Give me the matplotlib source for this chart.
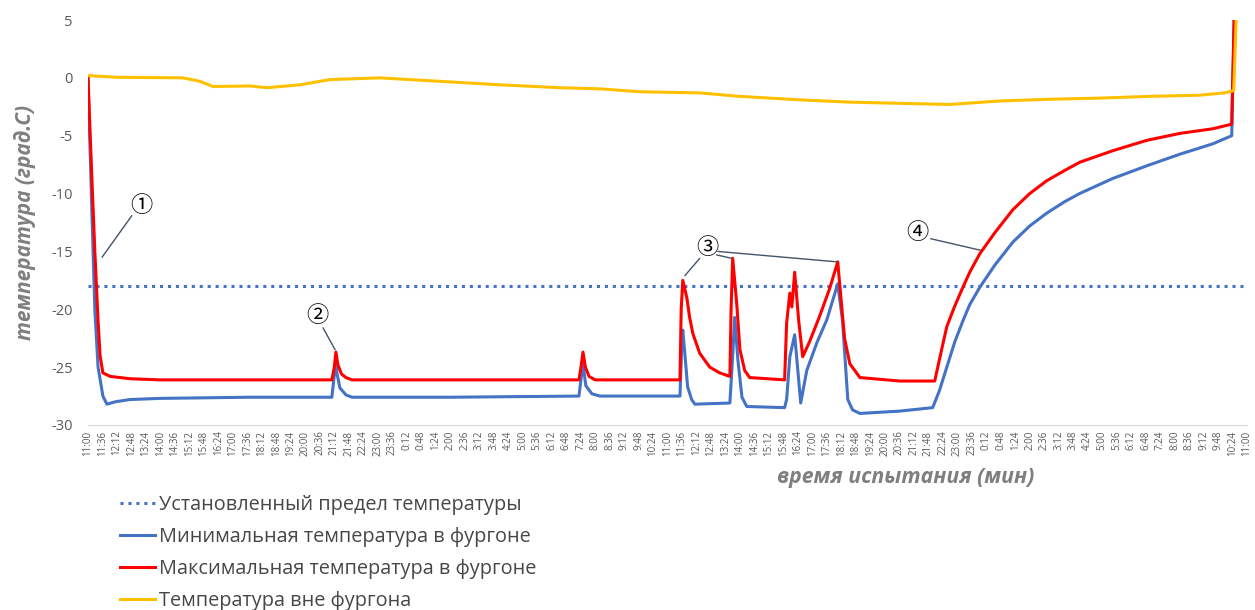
import matplotlib
matplotlib.use("Agg")
import matplotlib.pyplot as plt

plt.rcParams['font.family'] = ['Open Sans', 'DejaVu Sans']
plt.rcParams['axes.unicode_minus'] = False

# minutes from start of test (11:00), temperature in deg C
t_min = [0, 10, 17, 25, 37, 47, 67, 104, 179, 400, 606, 611, 616, 619, 626, 641, 656,
         900, 1220, 1226, 1230, 1237, 1252, 1272, 1471, 1476, 1478, 1483, 1490, 1500, 1508,
         1595, 1602, 1607, 1615, 1625, 1637, 1731, 1736, 1744, 1756, 1771, 1786, 1811,
         1836, 1863, 1875, 1888, 1900, 1918, 2017, 2099, 2116, 2134, 2154, 2174, 2191,
         2216, 2253, 2298, 2340, 2382, 2427, 2464, 2546, 2631, 2713, 2795, 2842, 2850]
v_min = [0, -12, -20, -25, -27.5, -28.2, -28.0, -27.8, -27.7, -27.6, -27.6, -26.0, -24.8, -25.6, -26.8, -27.4, -27.6,
         -27.6, -27.5, -25.8, -24.7, -26.6, -27.3, -27.5, -27.5, -22.5, -21.8, -23.8, -26.7, -27.8, -28.2,
         -28.1, -24.0, -20.7, -24.4, -27.6, -28.4, -28.5, -27.8, -24.1, -22.2, -28.1, -25.3, -22.9,
         -20.9, -17.8, -21.0, -27.8, -28.7, -29.0, -28.8, -28.5, -27.0, -25.0, -22.8, -21.0, -19.6,
         -18.1, -16.2, -14.2, -12.8, -11.7, -10.7, -10.0, -8.7, -7.6, -6.6, -5.7, -5.0, 8]

t_max = [0, 10, 17, 25, 30, 37, 55, 104, 179, 606, 612, 616, 621, 630, 641, 656,
         1220, 1225, 1230, 1236, 1245, 1260, 1471, 1474, 1478, 1488, 1495, 1503, 1520, 1545,
         1570, 1595, 1598, 1602, 1612, 1620, 1632, 1644, 1731, 1736, 1744, 1749, 1756, 1766,
         1776, 1793, 1818, 1843, 1863, 1880, 1893, 1918, 2017, 2104, 2116, 2134, 2154, 2174,
         2191, 2216, 2253, 2298, 2340, 2382, 2427, 2464, 2546, 2631, 2713, 2795, 2842, 2850]
v_max = [0, -9, -15, -21, -24, -25.5, -25.8, -26.0, -26.1, -26.1, -25.0, -23.7, -24.8, -25.6, -25.9, -26.1,
         -26.1, -25.0, -23.7, -25.0, -25.8, -26.1, -26.1, -20.0, -17.5, -19.0, -20.7, -22.1, -23.8, -25.0,
         -25.5, -25.8, -20.0, -15.6, -19.5, -23.5, -25.3, -25.9, -26.1, -21.2, -18.6, -19.8, -16.8, -21.0,
         -24.1, -22.8, -20.6, -18.2, -15.9, -22.5, -24.7, -25.9, -26.2, -26.2, -24.3, -21.5, -19.7, -18.1,
         -16.8, -15.2, -13.4, -11.4, -10.0, -8.9, -8.0, -7.3, -6.3, -5.4, -4.8, -4.4, -4.0, 8]

t_out = [0, 72, 236, 278, 311, 402, 445, 527, 601, 725, 850, 1023, 1172, 1272, 1371,
         1520, 1620, 1769, 1893, 2017, 2141, 2265, 2390, 2514, 2638, 2762, 2824, 2847, 2856]
v_out = [0.2, 0.05, 0.0, -0.3, -0.75, -0.7, -0.85, -0.6, -0.15, 0.0, -0.25, -0.6, -0.85, -0.95, -1.2,
         -1.3, -1.6, -1.9, -2.1, -2.2, -2.3, -2.0, -1.85, -1.75, -1.6, -1.5, -1.3, -1.1, 8]

limit = -18

day_labels = ["11:00", "11:36", "12:12", "12:48", "13:24", "14:00", "14:36", "15:12", "15:48", "16:24",
              "17:00", "17:36", "18:12", "18:48", "19:24", "20:00", "20:36", "21:12", "21:48", "22:24",
              "23:00", "23:36", "0:12", "0:48", "1:24", "2:00", "2:36", "3:12", "3:48", "4:24",
              "5:00", "5:36", "6:12", "6:48", "7:24", "8:00", "8:36", "9:12", "9:48", "10:24"]
x_labels = day_labels + day_labels + ["11:00"]
x_ticks = [36 * i for i in range(len(x_labels))]
y_ticks = [-30, -25, -20, -15, -10, -5, 0, 5]

blue = '#4472C4'
red = '#FF0000'
yellow = '#FFC000'
gray = '#595959'

fig = plt.figure(figsize=(12.55, 6.1), dpi=100)
ax = fig.add_axes([88 / 1255, 1 - 425 / 610, 1159 / 1255, 405 / 610])

ax.axhline(limit, color=blue, lw=2.2, ls=(0, (1, 1.6)), label='Установленный предел температуры')
ax.plot(t_min, v_min, color=blue, lw=2.2, label='Минимальная температура в фургоне')
ax.plot(t_max, v_max, color=red, lw=2.2, label='Максимальная температура в фургоне')
ax.plot(t_out, v_out, color=yellow, lw=2.2, label='Температура вне фургона')

ax.set_xlim(0, 2880)
ax.set_ylim(-30, 5)
ax.set_xticks(x_ticks)
ax.set_xticklabels(x_labels, rotation=90, fontsize=7, color=gray)
ax.set_yticks(y_ticks)
ax.set_yticklabels([str(v) for v in y_ticks], fontsize=10.5, color=gray)
ax.tick_params(length=0)
ax.tick_params(axis='y', pad=11)
ax.tick_params(axis='x', pad=4)
for s in ['top', 'right', 'left']:
    ax.spines[s].set_visible(False)
ax.spines['bottom'].set_color('#d9d9d9')

fig.text(25 / 1255, 1 - 222 / 610, 'температура (град.С)', rotation=90, ha='center', va='center',
         fontsize=15, fontweight='bold', fontstyle='italic', color='#7f7f7f')
fig.text(906 / 1255, 1 - 478 / 610, 'время испытания (мин)', ha='center', va='center',
         fontsize=15.3, fontweight='bold', fontstyle='italic', color='#7f7f7f')

# callouts
cfont = dict(fontsize=16, family=['Noto Sans CJK JP', 'DejaVu Sans'], ha='center', va='center')
lp = dict(arrowstyle='-', color='#44546A', lw=1, shrinkA=0, shrinkB=0)
ax.text(132, -11.0, '①', **cfont)
ax.annotate('', xy=(35, -15.5), xytext=(109, -11.9), arrowprops=lp)
ax.text(571, -20.5, '②', **cfont)
ax.annotate('', xy=(614, -23.5), xytext=(584, -21.6), arrowprops=lp)
ax.text(1538, -14.7, '③', **cfont)
ax.annotate('', xy=(1483, -17.1), xytext=(1520, -15.6), arrowprops=lp)
ax.annotate('', xy=(1600, -15.6), xytext=(1562, -15.3), arrowprops=lp)
ax.annotate('', xy=(1861, -15.9), xytext=(1565, -15.0), arrowprops=lp)
ax.text(2062, -13.4, '④', **cfont)
ax.annotate('', xy=(2218, -14.9), xytext=(2094, -13.9), arrowprops=lp)

fig.legend(loc='upper left', bbox_to_anchor=(112 / 1255, 1 - 487 / 610), frameon=False,
           fontsize=14.3, handlelength=1.75, handletextpad=0.2, labelspacing=0.6,
           labelcolor='#474747', borderaxespad=0)

fig.savefig('out.png', dpi=100)
